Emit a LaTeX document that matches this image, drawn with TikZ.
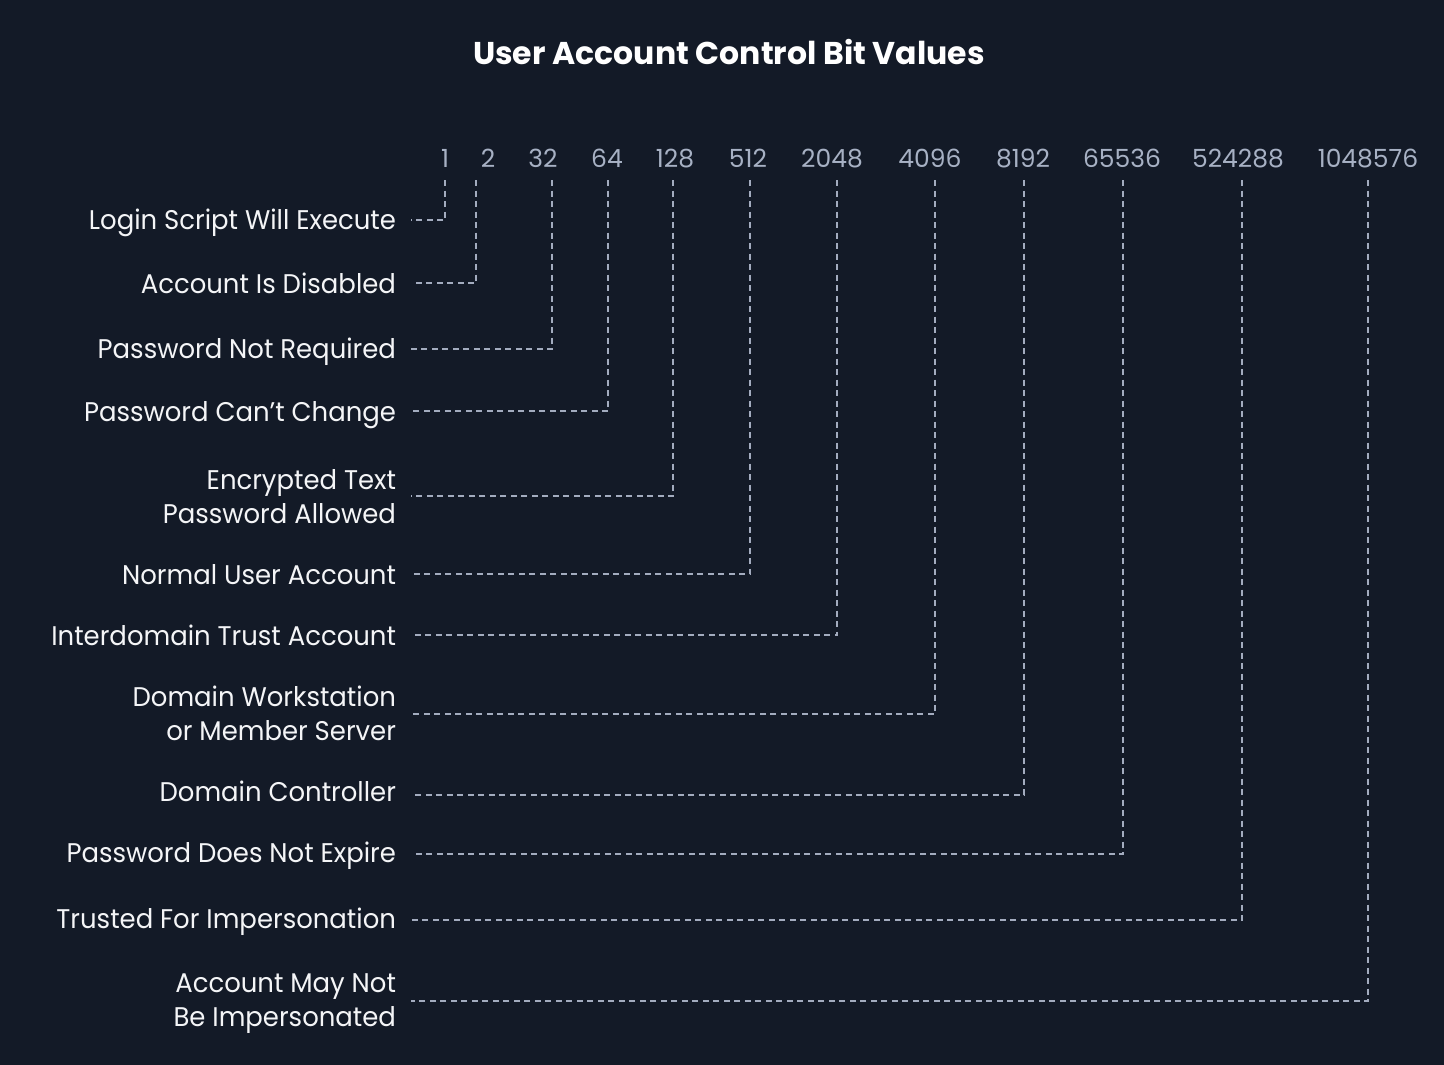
\documentclass[tikz,border=0pt]{standalone}
\usepackage{fontspec}
\setmainfont{Poppins}
\newfontfamily\lblfont{Poppins}[FakeStretch=0.96]
\definecolor{bg}{HTML}{131A27}
\definecolor{numc}{HTML}{A7B1C4}
\definecolor{linec}{HTML}{A3ACBF}
\definecolor{lblc}{HTML}{F4F5F7}
\newcommand{\lblstrut}{\rule[-0.25em]{0pt}{0.95em}}
\begin{document}
\begin{tikzpicture}[x=1pt,y=-1pt,
  lbl/.style={anchor=east,inner sep=0pt,outer xsep=15pt,align=right,text=lblc,
    font=\lblfont\fontsize{27}{34}\selectfont},
  num/.style={anchor=base,inner sep=0pt,text=numc,font=\fontsize{25}{30}\selectfont},
  dl/.style={draw=linec,line width=1.5pt,dash pattern=on 6pt off 4.5pt},
  ttl/.style={anchor=base,inner sep=0pt,text=white,font=\fontsize{31.5}{36}\selectfont\bfseries}]
\fill[bg] (0,0) rectangle (1444,1065);
\useasboundingbox (0,0) rectangle (1444,1065);
\node[ttl] (title) at (729,65) {User Account Control Bit Values};
% numbers
\node[num] (n1) at (445,167) {1};
\node[num] (n2) at (488,167) {2};
\node[num] (n3) at (543,167) {32};
\node[num] (n4) at (607,167) {64};
\node[num] (n5) at (675,167) {128};
\node[num] (n6) at (748,167) {512};
\node[num] (n7) at (832,167) {2048};
\node[num] (n8) at (930,167) {4096};
\node[num] (n9) at (1023,167) {8192};
\node[num] (n10) at (1122,167) {65536};
\node[num] (n11) at (1238,167) {524288};
\node[num] (n12) at (1368,167) {1048576};
% line tops
\coordinate (t1) at (445,180);
\coordinate (t2) at (476,180);
\coordinate (t3) at (552,180);
\coordinate (t4) at (608,180);
\coordinate (t5) at (673,180);
\coordinate (t6) at (750,180);
\coordinate (t7) at (837,180);
\coordinate (t8) at (935,180);
\coordinate (t9) at (1024,180);
\coordinate (t10) at (1123,180);
\coordinate (t11) at (1242,180);
\coordinate (t12) at (1368,180);
% labels (text sits about 3px below its connector)
\node[lbl] (l1) at (411,223) {\lblstrut Login Script Will Execute};
\node[lbl] (l2) at (411,287) {\lblstrut Account Is Disabled};
\node[lbl] (l3) at (411,352) {\lblstrut Password Not Required};
\node[lbl] (l4) at (411,415) {\lblstrut Password Can’t Change};
\node[lbl] (l5) at (411,500) {\lblstrut Encrypted Text\\\lblstrut Password Allowed};
\node[lbl] (l6) at (411,578) {\lblstrut Normal User Account};
\node[lbl] (l7) at (411,639) {\lblstrut Interdomain Trust Account};
\node[lbl] (l8) at (411,717) {\lblstrut Domain Workstation\\\lblstrut or Member Server};
\node[lbl] (l9) at (411,795) {\lblstrut Domain Controller};
\node[lbl] (l10) at (411,856) {\lblstrut Password Does Not Expire};
\node[lbl] (l11) at (411,922) {\lblstrut Trusted For Impersonation};
\node[lbl] (l12) at (411,1004) {\lblstrut Account May Not\\\lblstrut Be Impersonated};
% connectors
\draw[dl] (t1) |- ([yshift=3pt]l1.east);
\draw[dl] (t2) |- ([yshift=4pt]l2.east);
\draw[dl] (t3) |- ([yshift=3pt]l3.east);
\draw[dl] (t4) |- ([yshift=4pt]l4.east);
\draw[dl] (t5) |- ([yshift=4pt]l5.east);
\draw[dl] (t6) |- ([yshift=4pt]l6.east);
\draw[dl] (t7) |- ([yshift=4pt]l7.east);
\draw[dl] (t8) |- ([yshift=3pt]l8.east);
\draw[dl] (t9) |- (l9.east);
\draw[dl] (t10) |- ([yshift=2pt]l10.east);
\draw[dl] (t11) |- ([yshift=2pt]l11.east);
\draw[dl] (t12) |- ([yshift=3pt]l12.east);
\end{tikzpicture}
\end{document}
